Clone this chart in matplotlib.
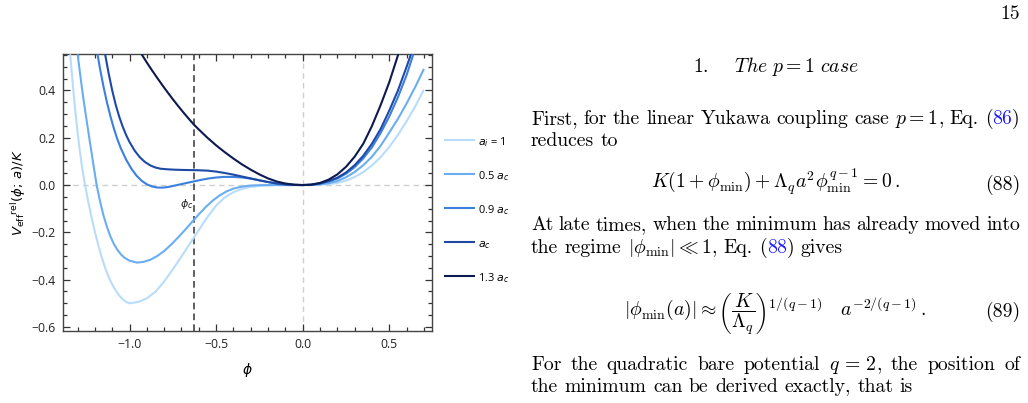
import matplotlib
matplotlib.use('Agg')
import matplotlib.pyplot as plt
from matplotlib.ticker import MultipleLocator, FuncFormatter

# ---------------- data ----------------
phi_c = -0.628

phi_ai = [-1.343, -1.337, -1.327, -1.317, -1.307, -1.297, -1.287, -1.277, -1.267, -1.257,
          -1.24, -1.22, -1.20, -1.18, -1.16, -1.14, -1.12, -1.10, -1.08, -1.06, -1.04,
          -1.02, -1.00, -0.95, -0.90, -0.85, -0.80, -0.75, -0.70, -0.65, -0.60, -0.55,
          -0.50, -0.45, -0.40, -0.35, -0.30, -0.25, -0.20, -0.15, -0.10, 0.0, 0.05,
          0.10, 0.15, 0.20, 0.25, 0.30, 0.35, 0.40, 0.45, 0.50, 0.55, 0.60, 0.65, 0.70]
V_ai = [0.553, 0.504, 0.42, 0.342, 0.27, 0.204, 0.144, 0.09, 0.042, 0.0,
        -0.065, -0.135, -0.198, -0.255, -0.307, -0.352, -0.39, -0.42, -0.446, -0.467, -0.483,
        -0.494, -0.50, -0.4945, -0.479, -0.451, -0.408, -0.357, -0.302, -0.246, -0.19, -0.135,
        -0.087, -0.052, -0.03, -0.016, -0.008, -0.0035, -0.0012, -0.0003, 0.0, 0.0, 0.0002,
        0.0015, 0.004, 0.009, 0.019, 0.034, 0.055, 0.083, 0.118, 0.161, 0.212, 0.27, 0.333, 0.403]

phi_05 = [-1.30, -1.27, -1.25, -1.23, -1.21, -1.19, -1.17, -1.15, -1.13, -1.11, -1.09,
          -1.07, -1.05, -1.03, -1.00, -0.957, -0.92, -0.88, -0.84, -0.80, -0.76, -0.72,
          -0.68, -0.64, -0.60, -0.56, -0.52, -0.48, -0.44, -0.40, -0.36, -0.32, -0.28,
          -0.24, -0.20, 0.0, 0.05, 0.10, 0.15, 0.20, 0.25, 0.30, 0.35, 0.40, 0.45,
          0.50, 0.55, 0.60, 0.65, 0.70]
V_05 = [0.553, 0.383, 0.284, 0.187, 0.0925, 0.0, -0.07, -0.13, -0.178, -0.218, -0.25,
        -0.274, -0.293, -0.307, -0.32, -0.328, -0.325, -0.316, -0.30, -0.279, -0.252, -0.222,
        -0.19, -0.157, -0.124, -0.093, -0.066, -0.044, -0.027, -0.015, -0.008, -0.0035, -0.0013,
        -0.0004, 0.0, 0.0, 0.0004, 0.003, 0.008, 0.017, 0.033, 0.055, 0.084, 0.12, 0.166,
        0.222, 0.28, 0.345, 0.415, 0.491]

phi_09 = [-1.185, -1.17, -1.15, -1.13, -1.11, -1.09, -1.07, -1.05, -1.02, -0.99, -0.96,
          -0.93, -0.90, -0.87, -0.84, -0.81, -0.78, -0.75, -0.70, -0.65, -0.60, -0.55,
          -0.50, -0.45, -0.40, -0.35, -0.30, -0.25, -0.20, -0.15, -0.10, -0.05, 0.0,
          0.05, 0.10, 0.15, 0.20, 0.25, 0.30, 0.35, 0.40, 0.45, 0.50, 0.55, 0.60, 0.639]
V_09 = [0.553, 0.49, 0.415, 0.348, 0.29, 0.238, 0.193, 0.155, 0.108, 0.07, 0.04,
        0.018, 0.003, -0.006, -0.0105, -0.011, -0.0085, -0.004, 0.004, 0.012, 0.02, 0.027,
        0.032, 0.0345, 0.0345, 0.032, 0.027, 0.02, 0.013, 0.007, 0.003, 0.0007, 0.0,
        0.001, 0.006, 0.015, 0.028, 0.048, 0.076, 0.113, 0.16, 0.22, 0.29, 0.372, 0.465, 0.553]

phi_1 = [-1.141, -1.12, -1.10, -1.08, -1.06, -1.04, -1.02, -1.00, -0.97, -0.94, -0.91,
         -0.88, -0.85, -0.82, -0.78, -0.74, -0.70, -0.628, -0.60, -0.55, -0.50, -0.45,
         -0.40, -0.35, -0.30, -0.25, -0.20, -0.15, -0.10, -0.05, 0.0, 0.05, 0.10,
         0.15, 0.20, 0.25, 0.30, 0.35, 0.40, 0.45, 0.50, 0.55, 0.60, 0.625]
V_1 = [0.553, 0.47, 0.40, 0.34, 0.29, 0.248, 0.212, 0.182, 0.145, 0.117, 0.097,
       0.083, 0.074, 0.069, 0.0665, 0.065, 0.064, 0.063, 0.0625, 0.061, 0.057, 0.051,
       0.044, 0.036, 0.028, 0.02, 0.0125, 0.0065, 0.0025, 0.0006, 0.0, 0.001, 0.007,
       0.017, 0.031, 0.053, 0.084, 0.124, 0.175, 0.237, 0.315, 0.40, 0.50, 0.553]

phi_13 = [-0.93, -0.90, -0.87, -0.84, -0.81, -0.78, -0.75, -0.72, -0.69, -0.66, -0.63,
          -0.60, -0.55, -0.50, -0.45, -0.40, -0.35, -0.30, -0.25, -0.20, -0.15, -0.10,
          -0.05, 0.0, 0.05, 0.10, 0.15, 0.20, 0.25, 0.30, 0.35, 0.40, 0.45, 0.50, 0.552]
V_13 = [0.553, 0.518, 0.485, 0.453, 0.422, 0.392, 0.363, 0.335, 0.308, 0.282, 0.257,
        0.235, 0.20, 0.168, 0.139, 0.112, 0.087, 0.065, 0.045, 0.028, 0.015, 0.0065,
        0.0016, 0.0, 0.002, 0.009, 0.023, 0.045, 0.077, 0.12, 0.175, 0.25, 0.338, 0.435, 0.553]

labels = [r'$a_i$ = 1', r'0.5 $a_c$', r'0.9 $a_c$', r'$a_c$', r'1.3 $a_c$']
colors = ['#b9dcfa', '#6aaef0', '#3b7fdf', '#1e4aa6', '#0d1a4f']
series = [(phi_ai, V_ai), (phi_05, V_05), (phi_09, V_09), (phi_1, V_1), (phi_13, V_13)]

x_ticks = [-1.0, -0.5, 0.0, 0.5]
y_ticks = [-0.6, -0.4, -0.2, 0.0, 0.2, 0.4]

# ---------------- figure ----------------
W, H = 1028, 403
plt.rcParams['mathtext.fontset'] = 'dejavusans'
fig = plt.figure(figsize=(W / 100, H / 100), dpi=100)
fig.patch.set_facecolor('white')

L, R, T, B = 62.7, 431.7, 54.3, 330.7
ax = fig.add_axes([L / W, 1 - B / H, (R - L) / W, (B - T) / H])

ax.axhline(0, color='#cfcfcf', lw=1.0, dashes=(4, 3), zorder=1)
ax.axvline(0, color='#cfcfcf', lw=1.0, dashes=(4, 3), zorder=1)
ax.axvline(phi_c, color='#444444', lw=1.2, dashes=(4, 2.5), zorder=1)

for (xs, ys), c, lab in zip(series, colors, labels):
    ax.plot(xs, ys, color=c, lw=1.5, label=lab, solid_capstyle='butt',
            solid_joinstyle='round', zorder=3)

ax.text(phi_c - 0.002, -0.079, r'$\phi_c$', ha='right', va='center', fontsize=8, color='#222222')

ax.set_xlim(-1.386, 0.745)
ax.set_ylim(-0.616, 0.553)
ax.set_xticks(x_ticks)
ax.set_yticks(y_ticks)
ax.xaxis.set_minor_locator(MultipleLocator(0.1))
ax.yaxis.set_minor_locator(MultipleLocator(0.05))
fmt = FuncFormatter(lambda v, p: ('%.1f' % v).replace('-', '\u2212'))
ax.xaxis.set_major_formatter(fmt)
ax.yaxis.set_major_formatter(fmt)
ax.tick_params(which='both', direction='in', top=True, right=True, color='#333333',
               labelsize=8.8, labelcolor='#222222', width=0.9)
ax.tick_params(which='major', length=5, pad=5)
ax.tick_params(which='minor', length=3)
for lbl in ax.get_xticklabels() + ax.get_yticklabels():
    lbl.set_fontfamily('Open Sans')
for s in ax.spines.values():
    s.set_color('#444444')
    s.set_linewidth(1.0)

ax.set_xlabel(r'$\phi$', fontsize=10)
ax.xaxis.label.set_va('center')
ax.xaxis.set_label_coords(0.5, -0.142)
ax.set_ylabel(r'$V_{\mathrm{eff}}{}^{\mathrm{rel}}(\phi;\, a)/K$', fontsize=9.5)
ax.yaxis.set_label_coords(-0.121, 0.5)
ax.yaxis.label.set_va('center')

fs_leg = 7.9
leg = ax.legend(loc='upper left', bbox_to_anchor=(444 / W, 1 - 134.9 / H),
                bbox_transform=fig.transFigure, frameon=False, fontsize=fs_leg,
                handlelength=2.83, handleheight=1.45, handletextpad=0.3,
                labelspacing=1.83, borderpad=0, borderaxespad=0)
for t in leg.get_texts():
    t.set_fontfamily('Open Sans')

# ---------------- page text on the right ----------------
renderer = fig.canvas.get_renderer()
FS = 14.2
BLUE = '#1a1aff'


def mk(x, y, s, color='black', ha='left', size=FS):
    return fig.text(x / W, 1 - y / H, s, ha=ha, va='baseline', fontsize=size, color=color,
                    fontfamily='cmr10', math_fontfamily='cm')


def wid(t):
    return t.get_window_extent(renderer).width


def line(y, words, x0=531.0, x1=1020.0, justify=True):
    objs = []
    widths = []
    for w in words:
        parts = []
        ww = 0.0
        for s, c in w:
            t = mk(x0, y, s, color=c)
            parts.append(t)
            ww += wid(t)
        objs.append(parts)
        widths.append(ww)
    if justify and len(words) > 1:
        gap = (x1 - x0 - sum(widths)) / (len(words) - 1)
    else:
        gap = 0.33 * FS * 100 / 72
    x = x0
    for parts, ww in zip(objs, widths):
        xx = x
        for t in parts:
            t.set_position((xx / W, 1 - y / H))
            xx += wid(t)
        x += ww + gap


def plain(s):
    return [[(w, 'black')] for w in s.split()]


mk(1020, 19.3, '15', ha='right')
fig.text(776 / W, 1 - 71.7 / H, r'$\mathit{1.}\quad\ \mathit{The}\ p = 1\ \mathit{case}$',
         ha='center', va='baseline', fontsize=FS, math_fontfamily='cm')

line(124, plain('First, for the linear Yukawa coupling case') +
     [[(r'$p=1$', 'black'), (',', 'black')], [('Eq.', 'black')],
      [('(', 'black'), ('86', BLUE), (')', 'black')]])
line(146.5, plain('reduces to'), justify=False)

fig.text(775 / W, 1 - 188.3 / H,
         r'$K(1+\phi_{\mathrm{min}})+\Lambda_q a^2\phi_{\mathrm{min}}^{q-1}=0\,.$',
         ha='center', va='baseline', fontsize=FS, math_fontfamily='cm')
mk(1020, 189.5, '(88)', ha='right')

line(230, plain('At late times, when the minimum has already moved into'))
line(253.3, plain('the regime') +
     [[(r'$|\phi_{\mathrm{min}}|\ll 1$', 'black'), (',', 'black')], [('Eq.', 'black')],
      [('(', 'black'), ('88', BLUE), (')', 'black')], [('gives', 'black')]], justify=False)

fig.text(775 / W, 1 - 316 / H,
         r'$|\phi_{\mathrm{min}}(a)|\approx\left(\dfrac{K}{\Lambda_q}\right)^{1/(q-1)}\quad a^{-2/(q-1)}\,.$',
         ha='center', va='baseline', fontsize=FS, math_fontfamily='cm')
mk(1020, 316.7, '(89)', ha='right')

line(370, plain('For the quadratic bare potential') +
     [[(r'$q\,=\,2$', 'black'), (',', 'black')]] + plain('the position of'))
line(391.7, plain('the minimum can be derived exactly, that is'), justify=False)

fig.savefig('out.png', dpi=100, facecolor='white')
